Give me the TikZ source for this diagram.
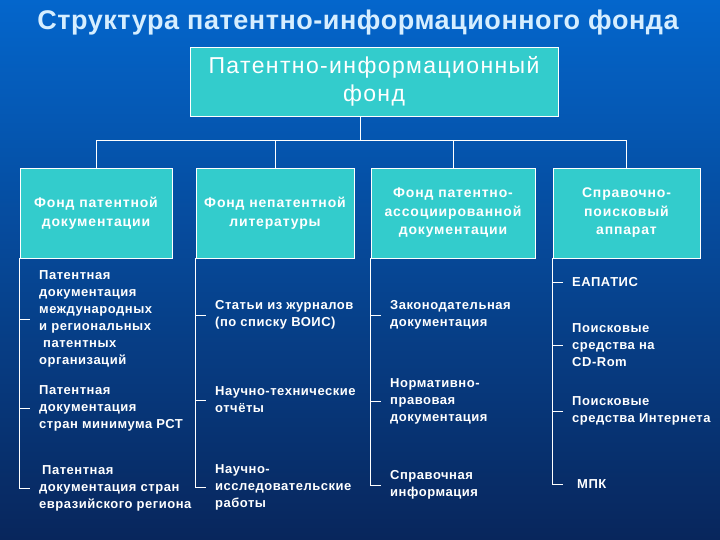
\documentclass[tikz,border=0pt]{standalone}
\usepackage{fontspec}
\setmainfont{Liberation Sans}
\usetikzlibrary{positioning}

\definecolor{bgtop}{RGB}{4,102,204}
\definecolor{bgbot}{RGB}{8,38,92}
\definecolor{boxteal}{RGB}{51,204,204}
\definecolor{titlecol}{RGB}{214,238,255}

\begin{document}
\begin{tikzpicture}[x=1pt, y=-1pt,
      catbox/.style={draw=white, line width=0.8pt, fill=boxteal, text=white, align=center,
        minimum height=90pt, inner sep=2pt,
        font=\fontsize{14}{18.5}\selectfont\bfseries\addfontfeature{LetterSpace=6}},
      item/.style={anchor=west, text=white, align=left, inner xsep=9pt, inner ysep=0pt,
        font=\fontsize{13}{17}\selectfont\bfseries\addfontfeature{LetterSpace=4}},
      wire/.style={draw=white, line width=1pt}]
    \fill[top color=bgtop, bottom color=bgbot] (0,0) rectangle (720,540);
    \useasboundingbox (0,0) rectangle (720,540);

    \node[text=titlecol, font=\fontsize{27}{30}\selectfont\bfseries\addfontfeature{LetterSpace=2}]
      (title) at (358,23) {Структура патентно-информационного фонда};
    \node[draw=white, line width=0.8pt, fill=boxteal, text=white, align=center,
      minimum width=368pt, minimum height=69pt,
      font=\fontsize{23}{28}\selectfont\addfontfeature{LetterSpace=6}]
      (top) at (374,81.5) {Патентно-информационный\\фонд};

    % the four branches
    \node[catbox, minimum width=152pt] (b1) at (96,213) {Фонд патентной\\документации};
    \node[catbox, minimum width=158pt] (b2) at (275,213) {Фонд непатентной\\литературы};
    \node[catbox, minimum width=164pt] (b3) at (453,213) {Фонд патентно-\\ассоциированной\\документации};
    \node[catbox, minimum width=147pt] (b4) at (626.5,213) {Справочно-\\поисковый\\аппарат};

    \coordinate (bus) at (360,141);
    \draw[wire] (bus |- top.south) -- (bus);
    \foreach \bx in {b1,b2,b3,b4}
      \draw[wire] (bus) -| (\bx.north);

    % column items
    \node[item] (i11) at (30,319) {Патентная\\документация\\международных\\и региональных\\\hspace{4pt}патентных\\организаций};
    \node[item] (i12) at (30,408) {Патентная\\документация\\стран минимума РСТ};
    \node[item] (i13) at (30,488) {\hspace{3pt}Патентная\\документация стран\\евразийского региона};

    \node[item] (i21) at (206,315) {Статьи из журналов\\(по списку ВОИС)};
    \node[item] (i22) at (206,400) {Научно-технические\\отчёты};
    \node[item] (i23) at (206,487) {Научно-\\исследовательские\\работы};

    \node[item] (i31) at (381,315) {Законодательная\\документация};
    \node[item] (i32) at (381,401) {Нормативно-\\правовая\\документация};
    \node[item] (i33) at (381,485) {Справочная\\информация};

    \node[item] (i41) at (563,282) {ЕАПАТИС};
    \node[item] (i42) at (563,345) {Поисковые\\средства на\\CD-Rom};
    \node[item] (i43) at (563,411) {Поисковые\\средства Интернета};
    \node[item] (i44) at (563,484) {\hspace{5pt}МПК};

    % brackets
    \draw[wire] (b1.south west) |- (i13.west);
    \foreach \ix in {i11,i12}
      \draw[wire] (b1.south west |- \ix.west) -- (\ix.west);
    \draw[wire] (b2.south west) |- (i23.west);
    \foreach \ix in {i21,i22}
      \draw[wire] (b2.south west |- \ix.west) -- (\ix.west);
    \draw[wire] (b3.south west) |- (i33.west);
    \foreach \ix in {i31,i32}
      \draw[wire] (b3.south west |- \ix.west) -- (\ix.west);
    \draw[wire] (b4.south west) |- (i44.west);
    \foreach \ix in {i41,i42,i43}
      \draw[wire] (b4.south west |- \ix.west) -- (\ix.west);
  \end{tikzpicture}
\end{document}
